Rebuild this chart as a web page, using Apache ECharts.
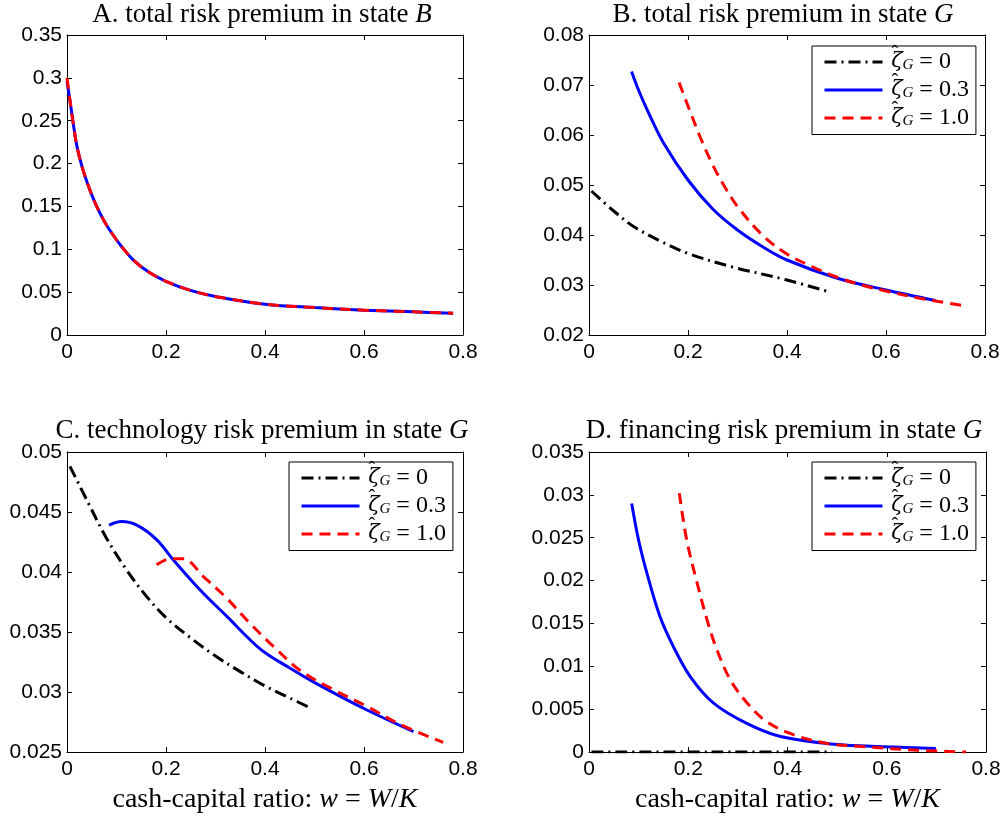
<!DOCTYPE html>
<html>
<head>
<meta charset="utf-8">
<script src="https://cdn.jsdelivr.net/npm/echarts@6/dist/echarts.min.js"></script>
<style>
html,body{margin:0;padding:0;background:#fff;}
#chart{width:1004px;height:816px;}
</style>
</head>
<body>
<div id="chart"></div>
<script>
// ---------------- data ----------------
const xTicks = [0, 0.2, 0.4, 0.6, 0.8];
const yTicksA = [0, 0.05, 0.1, 0.15, 0.2, 0.25, 0.3, 0.35];
const yTicksB = [0.02, 0.03, 0.04, 0.05, 0.06, 0.07, 0.08];
const yTicksC = [0.025, 0.03, 0.035, 0.04, 0.045, 0.05];
const yTicksD = [0, 0.005, 0.01, 0.015, 0.02, 0.025, 0.03, 0.035];

const legendValues = ['0', '0.3', '1.0'];
const seriesNames = ['z0', 'z03', 'z10'];

// Panel A: total risk premium in state B
const A_x = [0, 0.0067, 0.0135, 0.0202, 0.0303, 0.0438, 0.0572, 0.074, 0.0909, 0.111, 0.1347, 0.165, 0.1987, 0.2492, 0.302, 0.4, 0.5, 0.6, 0.7, 0.78];
const A_blue = [0.296, 0.2707, 0.2434, 0.2199, 0.1965, 0.173, 0.1535, 0.134, 0.1184, 0.1027, 0.0871, 0.0734, 0.0629, 0.052, 0.0447, 0.036, 0.032, 0.029, 0.027, 0.0253];
const A_red  = [0.300, 0.2707, 0.2434, 0.2199, 0.1965, 0.173, 0.1535, 0.134, 0.1184, 0.1027, 0.0871, 0.0734, 0.0629, 0.052, 0.0447, 0.036, 0.032, 0.029, 0.027, 0.0253];

// Panel B: total risk premium in state G
const B_black_x = [0.005, 0.05, 0.09, 0.15, 0.2, 0.29, 0.4, 0.483];
const B_black_y = [0.0488, 0.0448, 0.0417, 0.0385, 0.0363, 0.0336, 0.031, 0.0287];
const B_blue_x = [0.086, 0.1, 0.12, 0.15, 0.2, 0.25, 0.3, 0.35, 0.4, 0.5, 0.6, 0.7];
const B_blue_y = [0.0727, 0.069, 0.0645, 0.0585, 0.051, 0.0452, 0.041, 0.0377, 0.035, 0.0314, 0.029, 0.0269];
const B_red_x = [0.182, 0.2, 0.225, 0.25, 0.275, 0.3, 0.35, 0.4, 0.45, 0.5, 0.55, 0.6, 0.65, 0.7, 0.76];
const B_red_y = [0.0705, 0.0658, 0.0595, 0.054, 0.0495, 0.0457, 0.04, 0.0362, 0.0337, 0.0316, 0.03, 0.0288, 0.0277, 0.0268, 0.0258];

// Panel C: technology risk premium in state G
const C_black_x = [0.006, 0.04, 0.08, 0.12, 0.16, 0.2, 0.25, 0.3, 0.35, 0.4, 0.45, 0.49];
const C_black_y = [0.0488, 0.046, 0.0428, 0.0402, 0.038, 0.0362, 0.0345, 0.033, 0.0317, 0.0305, 0.0295, 0.0287];
const C_blue_x = [0.085, 0.11, 0.141, 0.181, 0.215, 0.269, 0.323, 0.39, 0.45, 0.504, 0.606, 0.7];
const C_blue_y = [0.0439, 0.0442, 0.0439, 0.0427, 0.041, 0.0385, 0.0363, 0.0336, 0.032, 0.0307, 0.0285, 0.0267];
const C_red_x = [0.181, 0.208, 0.235, 0.276, 0.323, 0.37, 0.417, 0.471, 0.538, 0.606, 0.673, 0.76];
const C_red_y = [0.0406, 0.0411, 0.0411, 0.0396, 0.0378, 0.0357, 0.0338, 0.0318, 0.0302, 0.0288, 0.0273, 0.0258];

// Panel D: financing risk premium in state G
const D_black_x = [0.005, 0.25, 0.49];
const D_black_y = [0, 0, 0];
const D_blue_x = [0.086, 0.1, 0.117, 0.143, 0.17, 0.204, 0.251, 0.319, 0.386, 0.494, 0.6, 0.699];
const D_blue_y = [0.029, 0.0247, 0.0208, 0.0158, 0.0123, 0.0088, 0.0057, 0.0033, 0.0018, 0.0009, 0.0006, 0.0004];
const D_red_x = [0.182, 0.197, 0.218, 0.238, 0.258, 0.285, 0.319, 0.359, 0.413, 0.48, 0.561, 0.662, 0.76];
const D_red_y = [0.0302, 0.0247, 0.0197, 0.0154, 0.0119, 0.0084, 0.0057, 0.0035, 0.002, 0.001, 0.0006, 0.0002, 0.0];

// ---------------- styling ----------------
const SANS = 'Liberation Sans';
const SERIF = 'Liberation Serif';
const grids = [
  {left: 67, top: 35, width: 396, height: 300},
  {left: 589, top: 35, width: 396, height: 300},
  {left: 67, top: 452, width: 396, height: 300},
  {left: 589, top: 452, width: 397, height: 300}
];
const yTickSets = [yTicksA, yTicksB, yTicksC, yTicksD];

const zip = (xs, ys) => xs.map((x, i) => [x, ys[i]]);
const styles = {
  black: {color: '#000000', type: [12, 5, 2, 5]},
  blue: {color: '#0000ff', type: 'solid'},
  red: {color: '#ff0000', type: [11, 7]}
};

const xAxes = [], yAxes = [];
grids.forEach((g, i) => {
  const tickCommon = {show: true, inside: true, length: 5, lineStyle: {color: '#000', width: 1}};
  const lineCommon = {show: true, onZero: false, lineStyle: {color: '#000', width: 1}};
  const yt = yTickSets[i];
  const bottomX = {
    type: 'value', gridIndex: i, position: 'bottom',
    min: xTicks[0], max: xTicks[xTicks.length - 1], interval: xTicks[1] - xTicks[0],
    axisLine: lineCommon, axisTick: tickCommon, splitLine: {show: false},
    axisLabel: {color: '#000', fontFamily: SANS, fontSize: 21, margin: 7}
  };
  if (i >= 2) {
    bottomX.name = 'cash-capital ratio: {i|w} = {i|W}/{i|K}';
    bottomX.nameLocation = 'middle';
    bottomX.nameGap = 34;
    bottomX.nameTextStyle = {color: '#000', fontFamily: SERIF, fontSize: 28,
      rich: {i: {fontStyle: 'italic', fontFamily: SERIF, fontSize: 28, color: '#000'}}};
  }
  xAxes.push(bottomX);
  xAxes.push({
    type: 'value', gridIndex: i, position: 'top',
    min: xTicks[0], max: xTicks[xTicks.length - 1], interval: xTicks[1] - xTicks[0],
    axisLine: lineCommon, axisTick: tickCommon, splitLine: {show: false}, axisLabel: {show: false}
  });
  const yint = Math.round((yt[1] - yt[0]) * 10000) / 10000;
  yAxes.push({
    type: 'value', gridIndex: i, position: 'left',
    min: yt[0], max: yt[yt.length - 1], interval: yint,
    axisLine: lineCommon, axisTick: tickCommon, splitLine: {show: false},
    axisLabel: {color: '#000', fontFamily: SANS, fontSize: 21, margin: 5}
  });
  yAxes.push({
    type: 'value', gridIndex: i, position: 'right',
    min: yt[0], max: yt[yt.length - 1], interval: yint,
    axisLine: lineCommon, axisTick: tickCommon, splitLine: {show: false}, axisLabel: {show: false}
  });
});

function mkSeries(gi, name, style, xs, ys) {
  return {
    type: 'line', name: name, xAxisIndex: gi * 2, yAxisIndex: gi * 2,
    data: zip(xs, ys), symbol: 'none', showSymbol: false,
    smooth: 0.35, clip: true,
    lineStyle: {color: style.color, width: 3, type: style.type},
    itemStyle: {color: style.color},
    emphasis: {disabled: true}
  };
}

const series = [
  mkSeries(0, 'z03', styles.blue, A_x, A_blue),
  mkSeries(0, 'z10', styles.red, A_x, A_red),
  mkSeries(1, 'z0', styles.black, B_black_x, B_black_y),
  mkSeries(1, 'z03', styles.blue, B_blue_x, B_blue_y),
  mkSeries(1, 'z10', styles.red, B_red_x, B_red_y),
  mkSeries(2, 'z0', styles.black, C_black_x, C_black_y),
  mkSeries(2, 'z03', styles.blue, C_blue_x, C_blue_y),
  mkSeries(2, 'z10', styles.red, C_red_x, C_red_y),
  mkSeries(3, 'z0', styles.black, D_black_x, D_black_y),
  mkSeries(3, 'z03', styles.blue, D_blue_x, D_blue_y),
  mkSeries(3, 'z10', styles.red, D_red_x, D_red_y)
];

const titleText = [
  'A. total risk premium in state {i|B}',
  'B. total risk premium in state {i|G}',
  'C. technology risk premium in state {i|G}',
  'D. financing risk premium in state {i|G}'
];
const titleCenters = [[262, 1], [783, 1], [262, 417], [784, 417]];
const titles = titleText.map((t, i) => ({
  text: t, left: titleCenters[i][0], top: titleCenters[i][1], textAlign: 'center', padding: 0,
  textStyle: {color: '#000', fontFamily: SERIF, fontSize: 27, fontWeight: 'normal',
    rich: {i: {fontStyle: 'italic', fontFamily: SERIF, fontSize: 27, color: '#000'}}}
}));

const legendRich = {
  h: {fontFamily: SERIF, fontSize: 20, padding: [-14, -7, 0, 4], color: '#000'},
  z: {fontFamily: 'DejaVu Serif', fontStyle: 'italic', fontSize: 21, lineHeight: 22, color: '#000'},
  g: {fontFamily: SERIF, fontStyle: 'italic', fontSize: 15, lineHeight: 15, verticalAlign: 'bottom', color: '#000'},
  t: {fontFamily: SERIF, fontSize: 24, lineHeight: 22, color: '#000'}
};

const legendPos = [[812, 46], [289, 462], [812, 462]];
const legends = legendPos.map(p => ({
  orient: 'vertical', left: p[0], top: p[1],
  data: seriesNames, selectedMode: false,
  itemWidth: 58, itemHeight: 14, itemGap: -1,
  padding: [-1, 7, 4.5, 11],
  borderColor: '#000', borderWidth: 1, borderRadius: 0, backgroundColor: '#fff',
  lineStyle: {width: 3},
  itemStyle: {opacity: 0, borderWidth: 0},
  formatter: name => '{h|\u02C6}{z|\u03B6}{g|G}{t| = ' + legendValues[seriesNames.indexOf(name)] + '}',
  textStyle: {color: '#000', fontFamily: SERIF, fontSize: 24, rich: legendRich}
}));

const chart = echarts.init(document.getElementById('chart'), null, {renderer: 'canvas'});
chart.setOption({
  backgroundColor: '#ffffff',
  animation: false,
  title: titles,
  legend: legends,
  grid: grids,
  xAxis: xAxes,
  yAxis: yAxes,
  series: series
});
</script>
</body>
</html>
